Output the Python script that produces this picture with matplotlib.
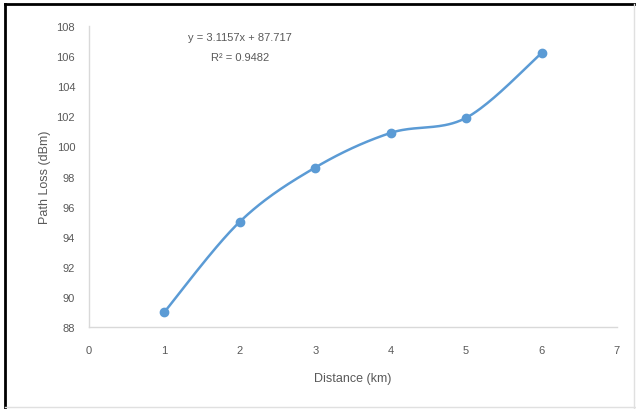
import numpy as np
import matplotlib
matplotlib.use("Agg")
import matplotlib.pyplot as plt
from matplotlib.lines import Line2D

distance_km = [1, 2, 3, 4, 5, 6]
path_loss_dbm = [89.0, 95.0, 98.6, 100.9, 101.9, 106.2]
x_ticks = [0, 1, 2, 3, 4, 5, 6, 7]
y_ticks = [88, 90, 92, 94, 96, 98, 100, 102, 104, 106, 108]
equation_text = "y = 3.1157x + 87.717"
r2_text = "R² = 0.9482"

FONT = ['Liberation Sans Narrow', 'Liberation Sans', 'DejaVu Sans']
plt.rcParams['font.family'] = FONT
GRAY = '#595959'
BLUE = '#5b9bd5'


def smooth_curve(xs, ys, n=40, tension=1/6):
    xs = np.asarray(xs, float)
    ys = np.asarray(ys, float)
    px = np.concatenate([[xs[0]], xs, [xs[-1]]])
    py = np.concatenate([[ys[0]], ys, [ys[-1]]])
    out_x, out_y = [], []
    for i in range(1, len(px) - 2):
        p0 = np.array([px[i - 1], py[i - 1]])
        p1 = np.array([px[i], py[i]])
        p2 = np.array([px[i + 1], py[i + 1]])
        p3 = np.array([px[i + 2], py[i + 2]])
        c1 = p1 + (p2 - p0) * tension
        c2 = p2 - (p3 - p1) * tension
        t = np.linspace(0, 1, n)[:, None]
        pts = ((1 - t) ** 3) * p1 + 3 * ((1 - t) ** 2) * t * c1 + 3 * (1 - t) * t ** 2 * c2 + t ** 3 * p2
        out_x.extend(pts[:, 0])
        out_y.extend(pts[:, 1])
    return np.array(out_x), np.array(out_y)


fig = plt.figure(figsize=(6.36, 4.10), dpi=100)
ax = fig.add_axes([0.140, 0.200, 0.830, 0.734])

sx, sy = smooth_curve(distance_km, path_loss_dbm)
ax.plot(sx, sy, color=BLUE, lw=1.8, solid_capstyle='round', zorder=2)
ax.plot(distance_km, path_loss_dbm, 'o', color=BLUE, ms=6, zorder=3)

ax.set_xlim(0, 7)
ax.set_ylim(88, 108)
ax.set_xticks(x_ticks)
ax.set_yticks(y_ticks)
ax.tick_params(length=0, labelsize=8, colors=GRAY)
ax.tick_params(axis='x', pad=13)
ax.tick_params(axis='y', pad=10)
for s in ['top', 'right']:
    ax.spines[s].set_visible(False)
for s in ['left', 'bottom']:
    ax.spines[s].set_color('#d9d9d9')
    ax.spines[s].set_linewidth(1.0)

ax.set_xlabel("Distance (km)", fontsize=9, color=GRAY, labelpad=12)
ax.set_ylabel("Path Loss (dBm)", fontsize=9, color=GRAY, labelpad=4)

fig.text(240 / 636, 1 - 38 / 410, equation_text, fontsize=8, color=GRAY, ha='center', va='center')
fig.text(240 / 636, 1 - 58 / 410, r2_text, fontsize=8, color=GRAY, ha='center', va='center')

# Border around the figure
fig.add_artist(Line2D([5 / 636, 5 / 636], [0, 1 - 5 / 410], transform=fig.transFigure, color='black', lw=2))
fig.add_artist(Line2D([5 / 636, 1], [1 - 5 / 410, 1 - 5 / 410], transform=fig.transFigure, color='black', lw=2))
fig.add_artist(Line2D([634 / 636, 634 / 636], [0, 1 - 5 / 410], transform=fig.transFigure, color='#e0e0e0', lw=1))
fig.add_artist(Line2D([5 / 636, 1], [2 / 410, 2 / 410], transform=fig.transFigure, color='#e0e0e0', lw=1))

fig.savefig("out.png", dpi=100)
